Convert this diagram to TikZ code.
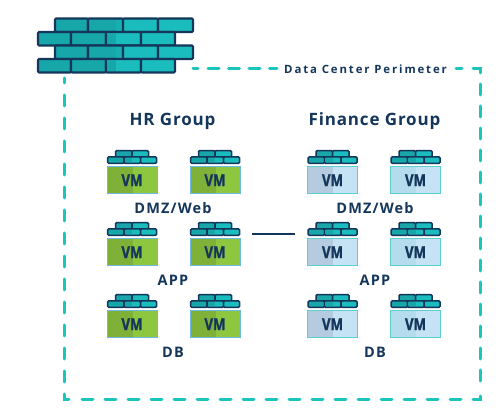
\documentclass[tikz,border=0pt]{standalone}
\usepackage{fontspec}
\usepackage{graphicx}
\setmainfont{Open Sans}
\definecolor{navy}{HTML}{14365A}
\definecolor{tealA}{HTML}{1ABCBE}
\definecolor{tealB}{HTML}{17A6A9}
\definecolor{perim}{HTML}{1CC4BE}
\definecolor{grnA}{HTML}{8DC63F}
\definecolor{grnB}{HTML}{7FB139}
\definecolor{bluA}{HTML}{C5E3F5}
\definecolor{bluB}{HTML}{B5CBE0}
\definecolor{bluC}{HTML}{B5DCEC}
\definecolor{hredge}{HTML}{6FB8E4}
\definecolor{fiedge}{HTML}{5CCFCF}
\tikzset{
  x=1pt,y=-1pt,
  brick/.style={draw=navy,line width=1.5pt,rounded corners=1pt,fill=tealA},
  brickd/.style={brick,fill=tealB},
  bigbrick/.style={brick,line width=2.1pt},
  bigbrickd/.style={brickd,line width=2.1pt},
  vmedge/.style={line width=1pt},
  vmtext/.style={text=navy,font=\bfseries\fontsize{16.5}{16.5}\selectfont,inner sep=0pt},
  grouplabel/.style={text=navy,font=\bfseries\fontsize{17}{18}\selectfont,inner sep=0pt},
  tierlabel/.style={text=navy,font=\bfseries\fontsize{14.5}{15}\selectfont,inner sep=0pt},
  perimeter/.style={draw=perim,line width=3pt,dash pattern=on 11pt off 12pt,line cap=round},
  perimright/.style={draw=perim,line width=3pt,dash pattern=on 11pt off 11pt,line cap=round},
  perimshort/.style={draw=perim,line width=3pt,dash pattern=on 11pt off 9.5pt,line cap=round},
  perimsolid/.style={draw=perim,line width=3pt,line cap=round},
}
% small wall + VM box: #1 x, #2 y (wall top), #3 light, #4 dark, #5 edge, #6 name
\newcommand{\vmunit}[6]{%
  \begin{scope}[shift={(#1,#2)}]
    \draw[brickd] (8.5,0.7) rectangle (25,7);
    \draw[brick] (25,0.7) rectangle (41.5,7);
    \draw[brickd] (0.7,7) rectangle (17,13.3);
    \draw[brick] (17,7) rectangle (33.5,13.3);
    \fill[tealB] (17.8,7.8) rectangle (25,12.5);
    \draw[brick] (33.5,7) rectangle (49.5,13.3);
    \fill[#3] (0,17) rectangle (50,43.5);
    \fill[#4] (0,17) rectangle (25.5,43.5);
    \draw[#5,vmedge] (0,17) rectangle (50,43.5);
    \node[vmtext] (#6) at (25,30.2) {\scalebox{.8}[1]{\addfontfeature{FakeBold=1.5}VM}};
  \end{scope}}
\begin{document}
\begin{tikzpicture}
\useasboundingbox (0,0) rectangle (499,417);
% perimeter
\coordinate (pa) at (473,69);
\coordinate (pb) at (480,69);
\coordinate (pc) at (480,391);
\draw[perimright] (pa) -- (pb) -- (pc);
\coordinate (qa) at (82,400);
\coordinate (qb) at (480,400);
\draw[perimeter] (qa) -- (qb) -- (pc);
\coordinate (ra) at (69,400);
\coordinate (rb) at (64,400);
\coordinate (rc) at (64,78);
\draw[perimeter] (ra) -- (rb) -- (rc);
\coordinate (sa) at (208,69);
\coordinate (sb) at (277,69);
\draw[perimshort] (sa) -- (sb);
\coordinate (ta) at (193,69);
\coordinate (tb) at (198,69);
\draw[perimsolid] (ta) -- (tb);
\coordinate (ua) at (456,69);
\coordinate (ub) at (462,69);
\draw[perimsolid] (ua) -- (ub);
\node[text=navy,font=\bfseries\fontsize{11.4}{12}\selectfont,inner sep=0pt,anchor=west] (perimlabel) at (284,69.5) {\addfontfeature{LetterSpace=16.5}Data Center Perimeter};
% firewall
\draw[bigbrickd] (55,18.5) rectangle (88,32);
\draw[bigbrickd] (88,18.5) rectangle (123,32);
\fill[tealA!40!tealB] (116,20) rectangle (122,31);
\draw[bigbrick] (123,18.5) rectangle (158,32);
\draw[bigbrick] (158,18.5) rectangle (193,32);
\draw[bigbrickd] (38,32) rectangle (71,45.5);
\draw[bigbrickd] (71,32) rectangle (106,45.5);
\draw[bigbrick] (106,32) rectangle (141,45.5);
\fill[tealB] (107,33) rectangle (116,44.5);
\draw[bigbrick] (141,32) rectangle (175,45.5);
\draw[bigbrickd] (55,45.5) rectangle (88,59);
\draw[bigbrickd] (88,45.5) rectangle (123,59);
\fill[tealA!40!tealB] (116,47) rectangle (122,58);
\draw[bigbrick] (123,45.5) rectangle (158,59);
\draw[bigbrick] (158,45.5) rectangle (193,59);
\draw[bigbrickd] (38,59) rectangle (71,72.5);
\draw[bigbrickd] (71,59) rectangle (106,72.5);
\draw[bigbrick] (106,59) rectangle (141,72.5);
\fill[tealB] (107,60) rectangle (116,71.5);
\draw[bigbrick] (141,59) rectangle (175,72.5);
% group titles
\node[grouplabel] (hr) at (172.5,121) {\addfontfeature{LetterSpace=5}HR Group};
\node[grouplabel] (fin) at (374.5,121) {\addfontfeature{LetterSpace=5}Finance Group};
% HR VMs
\vmunit{107}{150}{grnA}{grnB}{hredge}{hra}
\vmunit{190}{150}{grnA}{grnB}{hredge}{hrb}
\vmunit{107}{222}{grnA}{grnB}{hredge}{hrc}
\vmunit{190}{222}{grnA}{grnB}{hredge}{hrd}
\vmunit{107}{294}{grnA}{grnB}{hredge}{hre}
\vmunit{190}{294}{grnA}{grnB}{hredge}{hrf}
% Finance VMs
\vmunit{307.5}{150}{bluA}{bluB}{fiedge}{fia}
\vmunit{390.5}{150}{bluA}{bluC}{fiedge}{fib}
\vmunit{307.5}{222}{bluA}{bluB}{fiedge}{fic}
\vmunit{390.5}{222}{bluA}{bluC}{fiedge}{fid}
\vmunit{307.5}{294}{bluA}{bluB}{fiedge}{fie}
\vmunit{390.5}{294}{bluA}{bluC}{fiedge}{fif}
% tier labels
\node[tierlabel] (t1) at (173,208.5) {\addfontfeature{LetterSpace=8}DMZ/Web};
\node[tierlabel] (t2) at (173,280.5) {\addfontfeature{LetterSpace=8}APP};
\node[tierlabel] (t3) at (173,352) {\addfontfeature{LetterSpace=8}DB};
\node[tierlabel] (t4) at (375,208.5) {\addfontfeature{LetterSpace=8}DMZ/Web};
\node[tierlabel] (t5) at (375,280.5) {\addfontfeature{LetterSpace=8}APP};
\node[tierlabel] (t6) at (375,352) {\addfontfeature{LetterSpace=8}DB};
% separator
\coordinate (va) at (252,234);
\coordinate (vb) at (295,234);
\draw[navy,line width=2pt] (va) -- (vb);
\end{tikzpicture}
\end{document}
